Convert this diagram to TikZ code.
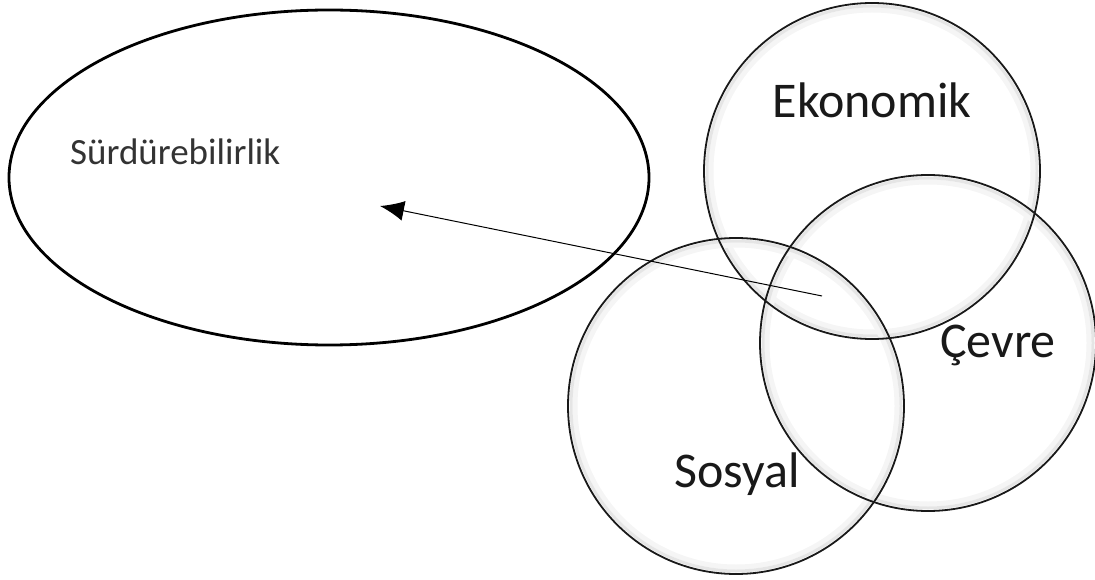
\documentclass[tikz,border=0pt]{standalone}
\usepackage{fontspec}
\setmainfont{Carlito}
\usetikzlibrary{arrows.meta,shapes.geometric}
\tikzset{
  halka/.style={circle,draw=black!90,line width=1.8bp,minimum size=336bp,inner sep=0pt},
  parlama/.style={draw=black!10,line width=3bp},
  parlamab/.style={draw=black!4,line width=5bp},
  etiket/.style={font=\fontsize{50bp}{60bp}\selectfont,text=black!90,inner sep=0pt,anchor=base},
}
\begin{document}
\begin{tikzpicture}[x=1bp,y=-1bp,>={Latex[length=24bp,width=20bp]},line join=bevel]
  \useasboundingbox (0,0) rectangle (1095,580);
%%
  % Node: Surdurebilirlik
\begin{scope}
  \node[ellipse,draw=black,line width=2.8bp,minimum width=640bp,minimum height=335bp,inner sep=0pt] (surd) at (329,177.5) {};
  \node[etiket,anchor=base west,font=\fontsize{37bp}{44bp}\selectfont,text=black!80] (surdlbl) at (70,165) {Sürdürebilirlik};
\end{scope}
  % inner glow of the circles
  \foreach \m in {(872,171),(928,343),(736,406)} {
    \draw[parlamab] \m circle (161bp);
    \draw[parlama] \m circle (165bp);
  }
  % Node: Ekonomik
\begin{scope}
  \node[halka] (eko) at (872,171) {};
  \node[etiket] (ekolbl) at (872,118) {Ekonomik};
\end{scope}
  % Node: Cevre
\begin{scope}
  \node[halka] (cevre) at (928,343) {};
  \node[etiket] (cevrelbl) at (998,357) {Çevre};
\end{scope}
  % Node: Sosyal
\begin{scope}
  \node[halka] (sosyal) at (736,406) {};
  \node[etiket] (sosyallbl) at (737,487) {Sosyal};
\end{scope}
  % Edge: kesisim -> Surdurebilirlik
  \coordinate (kesisim) at (822,296);
  \coordinate (hedef) at (380,206);
  \draw[->,line width=1bp] (kesisim) -- (hedef);
%
\end{tikzpicture}
\end{document}
